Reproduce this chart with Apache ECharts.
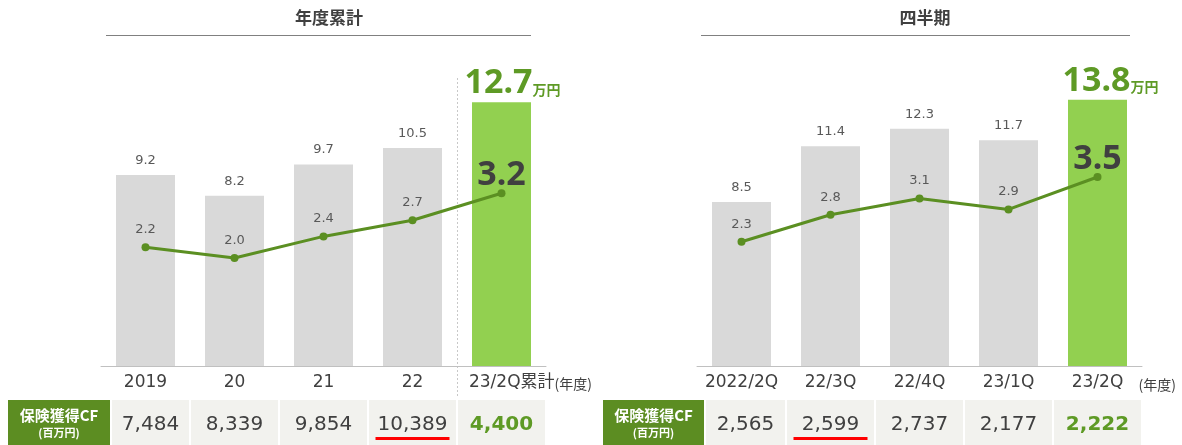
<!DOCTYPE html>
<html><head><meta charset="utf-8">
<script src="https://cdn.jsdelivr.net/npm/echarts@6/dist/echarts.min.js"></script>
<style>html,body{margin:0;padding:0;background:#fff}#c{width:1182px;height:445px}</style>
</head><body><div id="c"></div>
<script>
// ---- data ----
const leftCategories = ['2019', '20', '21', '22', '23/2Q累計'];
const leftBars = [9.2, 8.2, 9.7, 10.5, 12.7];
const leftLine = [2.2, 2.0, 2.4, 2.7, 3.2];
const leftCF = [7484, 8339, 9854, 10389, 4400];
const rightCategories = ['2022/2Q', '22/3Q', '22/4Q', '23/1Q', '23/2Q'];
const rightBars = [8.5, 11.4, 12.3, 11.7, 13.8];
const rightLine = [2.3, 2.8, 3.1, 2.9, 3.5];
const rightCF = [2565, 2599, 2737, 2177, 2222];
const leftTitle = '年度累計';
const rightTitle = '四半期';
const unitText = '万円';
const yearUnit = '(年度)';
const headerMain = '保険獲得CF';
const headerSub = '(百万円)';
const leftUnderline = 3;
const rightUnderline = 1;

// ---- styles ----
const GRAY = '#d9d9d9', LIGHTGREEN = '#92d050', LINE = '#5b8f22', GTXT = '#5e9a25',
      DARK = '#404040', MID = '#595959', CELL = '#f2f2ee', HEAD = '#5c8d22';
const NUMFONT = '"DejaVu Sans", "Noto Sans CJK JP"';

const chart = echarts.init(document.getElementById('c'));

function gridAt(left) { return { left: left, width: 445, top: 96, height: 270 }; }

function xAxisFor(gi, cats, isLeft) {
  return {
    type: 'category', gridIndex: gi, data: cats,
    axisLine: { lineStyle: { color: '#c0c0c0', width: 1 } },
    axisTick: { show: false },
    axisLabel: {
      interval: 0, hideOverlap: false,
      margin: 8, fontSize: 17, color: DARK, fontFamily: NUMFONT,
      formatter: function (v, i) {
        if (isLeft && i === cats.length - 1) return '{a|' + v + '}{b|' + yearUnit + '}';
        return v;
      },
      rich: {
        a: { fontSize: 17, color: DARK, fontFamily: NUMFONT, padding: [0, 0, 0, 58] },
        b: { fontSize: 14, color: DARK, fontFamily: '"Noto Sans CJK JP"', padding: [3, 0, 0, 0] }
      }
    }
  };
}

function barSeries(vals, gi, pad) {
  const n = vals.length;
  return {
    type: 'bar', xAxisIndex: gi, yAxisIndex: gi * 2, barWidth: 59, silent: true,
    itemStyle: { color: GRAY },
    label: { show: true, position: 'top', distance: 8, fontFamily: NUMFONT, fontSize: 13, color: MID,
      formatter: function (p) { return Number(p.value).toFixed(1); } },
    data: vals.map(function (v, i) {
      if (i !== n - 1) return v;
      return {
        value: v, itemStyle: { color: LIGHTGREEN },
        label: {
          distance: 2,
          formatter: '{big|' + v.toFixed(1) + '}{unit|' + unitText + '}',
          rich: {
            big: { fontFamily: '"Noto Sans"', fontWeight: 'bold', fontSize: 34, color: GTXT, padding: [0, 0, 0, pad] },
            unit: { fontFamily: '"Noto Sans CJK JP"', fontWeight: 'bold', fontSize: 14, color: GTXT, padding: [12, 0, 0, 0] }
          }
        }
      };
    })
  };
}

function lineSeries(vals, gi) {
  const n = vals.length;
  return {
    type: 'line', xAxisIndex: gi, yAxisIndex: gi * 2 + 1, silent: true,
    symbol: 'circle', symbolSize: 8,
    lineStyle: { color: LINE, width: 3 }, itemStyle: { color: LINE },
    label: { show: true, position: 'top', distance: 7, fontFamily: NUMFONT, fontSize: 13, color: MID,
      formatter: function (p) { return Number(p.value).toFixed(1); } },
    data: vals.map(function (v, i) {
      if (i !== n - 1) return v;
      return { value: v, label: { fontFamily: '"Noto Sans"', fontWeight: 'bold', fontSize: 34, color: DARK, distance: -3 } };
    })
  };
}

const option = {
  animation: false,
  grid: [gridAt(101), gridAt(697)],
  xAxis: [xAxisFor(0, leftCategories, true), xAxisFor(1, rightCategories, false)],
  yAxis: [
    { gridIndex: 0, min: 0, max: 13, show: false },
    { gridIndex: 0, min: 0, max: 5, show: false },
    { gridIndex: 1, min: 0, max: 14, show: false },
    { gridIndex: 1, min: 0, max: 5, show: false }
  ],
  series: [barSeries(leftBars, 0, 22), lineSeries(leftLine, 0), barSeries(rightBars, 1, 26), lineSeries(rightLine, 1)]
};
chart.setOption(option);

// ---- decorations & table, positioned from the axis scales ----
const g = [];
function px(gi, i) { return chart.convertToPixel({ xAxisIndex: gi }, i); }

function addTitle(text, cx, l, r) {
  g.push({ type: 'text', silent: true, style: { text: text, x: cx, y: 18, align: 'center', verticalAlign: 'middle',
    font: 'bold 17px "Noto Sans CJK JP"', fill: DARK } });
  g.push({ type: 'line', silent: true, shape: { x1: l, y1: 35.5, x2: r, y2: 35.5 }, style: { stroke: '#808080', lineWidth: 1.2 } });
}

function addTable(gi, vals, hl, hr, ul) {
  const half = 44.5;
  g.push({ type: 'rect', silent: true, shape: { x: hl, y: 400, width: hr - hl, height: 45 }, style: { fill: HEAD } });
  g.push({ type: 'text', silent: true, style: { text: headerMain, x: (hl + hr) / 2, y: 415, align: 'center', verticalAlign: 'middle',
    font: 'bold 15px "Noto Sans CJK JP"', fill: '#fff' } });
  g.push({ type: 'text', silent: true, style: { text: headerSub, x: (hl + hr) / 2, y: 433, align: 'center', verticalAlign: 'middle',
    font: 'bold 11px "Noto Sans CJK JP"', fill: '#fff' } });
  vals.forEach(function (v, i) {
    const c = px(gi, i);
    let l = c - half + 1, r = c + half - 1;
    if (i === 0) l = hr + 2;
    const last = i === vals.length - 1;
    g.push({ type: 'rect', silent: true, shape: { x: l, y: 400, width: r - l, height: 45 }, style: { fill: CELL } });
    g.push({ type: 'text', silent: true, style: { text: v.toLocaleString('en-US'), x: (l + r) / 2, y: 425, align: 'center', verticalAlign: 'middle',
      font: (last ? 'bold ' : '') + '20px "DejaVu Sans"', fill: last ? GTXT : DARK } });
    if (i === ul) {
      const cx = (l + r) / 2;
      g.push({ type: 'rect', silent: true, shape: { x: cx - 37, y: 437, width: 74, height: 3 }, style: { fill: '#ff0000' } });
    }
  });
}

addTitle(leftTitle, 329, 106, 531);
addTitle(rightTitle, 925, 701, 1130);

const sepX = Math.round((px(0, 3) + px(0, 4)) / 2) + 0.5;
g.push({ type: 'line', silent: true, shape: { x1: sepX, y1: 78, x2: sepX, y2: 398 }, style: { stroke: '#c8c8c8', lineWidth: 1, lineDash: [2, 2] } });

g.push({ type: 'text', silent: true, style: { text: yearUnit, x: px(1, 4) + 41, y: 385, align: 'left', verticalAlign: 'middle',
  font: '14px "Noto Sans CJK JP"', fill: DARK } });

addTable(0, leftCF, 8, 110, leftUnderline);
addTable(1, rightCF, 603, 704, rightUnderline);

chart.setOption({ graphic: g });
</script>
</body></html>
